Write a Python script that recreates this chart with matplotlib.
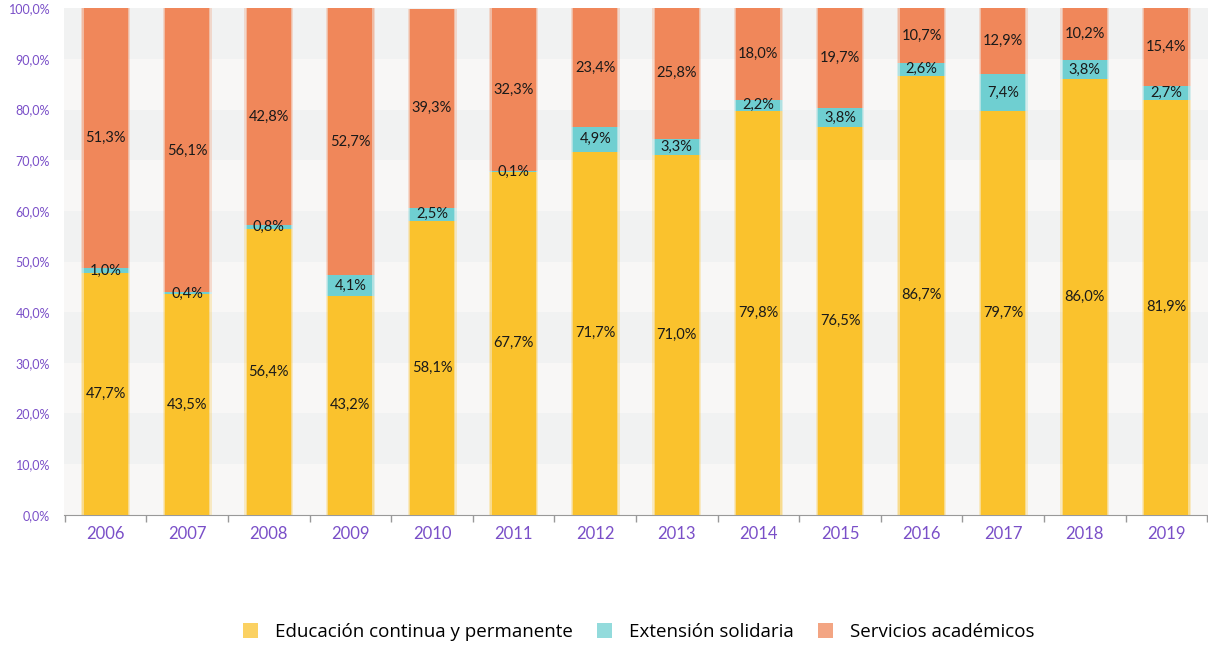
import matplotlib.pyplot as plt
import numpy as np

years = ['2006', '2007', '2008', '2009', '2010', '2011', '2012',
         '2013', '2014', '2015', '2016', '2017', '2018', '2019']
educacion = [47.7, 43.5, 56.4, 43.2, 58.1, 67.7, 71.7, 71.0, 79.8, 76.5, 86.7, 79.7, 86.0, 81.9]
extension = [1.0, 0.4, 0.8, 4.1, 2.5, 0.1, 4.9, 3.3, 2.2, 3.8, 2.6, 7.4, 3.8, 2.7]
servicios = [51.3, 56.1, 42.8, 52.7, 39.3, 32.3, 23.4, 25.8, 18.0, 19.7, 10.7, 12.9, 10.2, 15.4]

series = [
    ('Educación continua y permanente', educacion, '#fac22d'),
    ('Extensión solidaria', extension, '#6fcfd1'),
    ('Servicios académicos', servicios, '#f0875a'),
]

purple = '#7a4fc8'
plt.rcParams['font.family'] = ['Lato', 'DejaVu Sans']

fig = plt.figure(figsize=(12.08, 6.45), dpi=100)
ax = fig.add_axes([0.053, 0.202, 0.947, 0.785])

x = np.arange(len(years))
ax.set_xlim(-0.51, len(years) - 0.49)
ax.set_ylim(0, 100)

# alternating horizontal bands
for lo in range(0, 100, 10):
    col = '#f1f2f2' if (lo // 10) % 2 == 1 else '#f8f7f6'
    ax.axhspan(lo, lo + 10, color=col, zorder=0, lw=0)

bottom = np.zeros(len(years))
handles = []
for name, vals, color in series:
    vals = np.array(vals)
    # soft halo around each segment
    for w, a in [(0.60, 0.25), (0.57, 0.35)]:
        ax.bar(x, vals, w, bottom=bottom, color=color, alpha=a, lw=0, zorder=2)
    h = ax.bar(x, vals, 0.54, bottom=bottom, color=color, lw=0, zorder=3, label=name)
    handles.append(h)
    for xi, b, v in zip(x, bottom, vals):
        ax.text(xi, b + v / 2, f'{v:.1f}%'.replace('.', ','), ha='center', va='center',
                fontsize=10.5, color='#1a1a1a', zorder=5)
    bottom += vals

ax.set_yticks(np.arange(0, 101, 10))
ax.set_yticklabels([f'{v:.1f}%'.replace('.', ',') for v in range(0, 101, 10)],
                   color=purple, fontsize=9)
ax.tick_params(axis='y', length=0, pad=10)

ax.set_xticks(x)
ax.set_xticklabels(years, color=purple, fontsize=12)
ax.tick_params(axis='x', length=0, pad=8)
ax.set_xticks(np.arange(-0.5, len(years)), minor=True)
ax.tick_params(axis='x', which='minor', length=5, color='#999999', width=1)

for s in ['top', 'right', 'left']:
    ax.spines[s].set_visible(False)
ax.spines['bottom'].set_color('#999999')

leg = fig.legend(handles=handles, loc='center', bbox_to_anchor=(0.529, 0.02), ncol=3,
                 frameon=False, handlelength=0.8, handleheight=0.8,
                 columnspacing=1.3, handletextpad=0.9,
                 prop={'family': 'Open Sans', 'size': 13.5})
for p in leg.get_patches():
    p.set_alpha(0.75)

fig.savefig('out.png', dpi=100)
